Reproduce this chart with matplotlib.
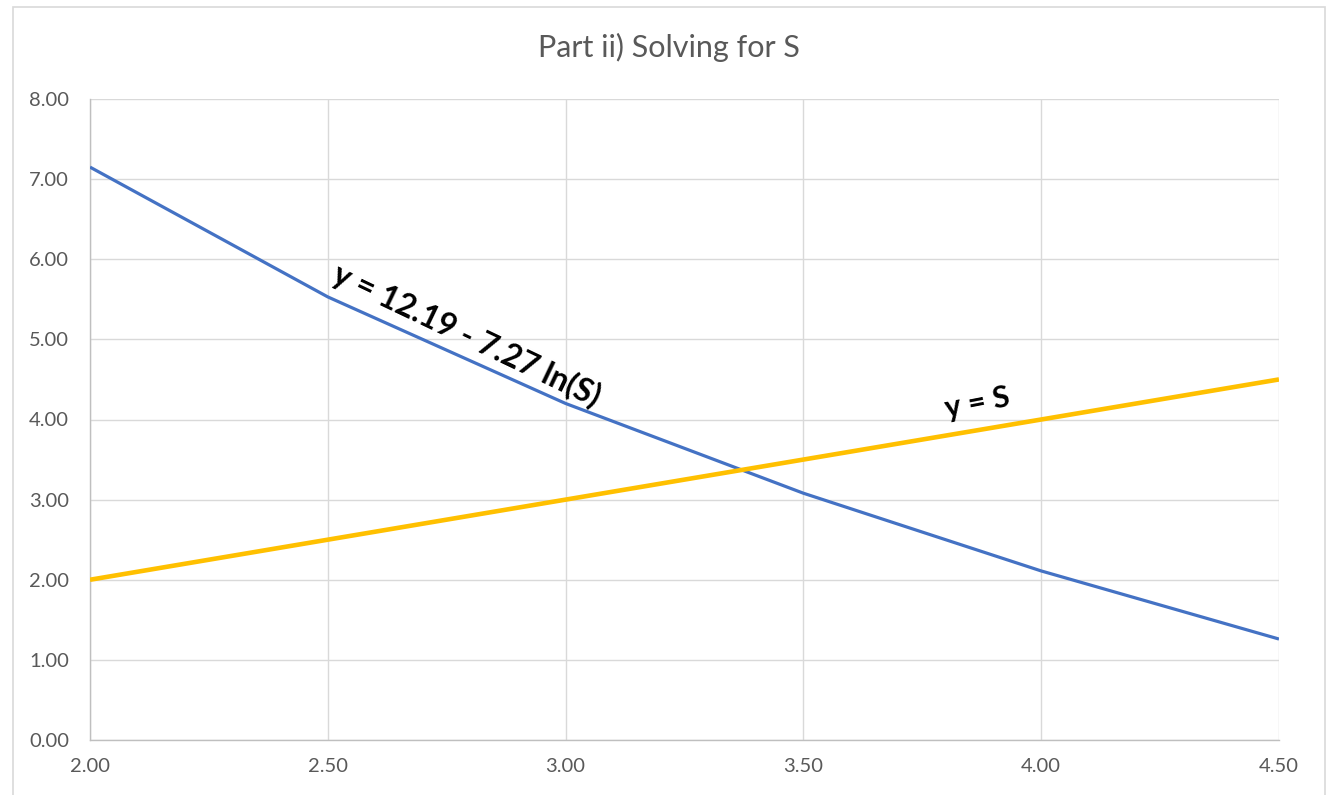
import numpy as np
import matplotlib
matplotlib.use("Agg")
import matplotlib.pyplot as plt
from matplotlib.patches import Rectangle

plt.rcParams['font.family'] = ['Lato', 'DejaVu Sans']

s_values = [2.0, 2.5, 3.0, 3.5, 4.0, 4.5]
log_curve = [7.15, 5.53, 4.20, 3.08, 2.11, 1.26]
identity = [2.0, 2.5, 3.0, 3.5, 4.0, 4.5]

x_ticks = [2.0, 2.5, 3.0, 3.5, 4.0, 4.5]
y_ticks = [0, 1, 2, 3, 4, 5, 6, 7, 8]

title = "Part ii) Solving for S"
label_log = "y = 12.19 - 7.27 ln(S)"
label_id = "y = S"

W, H = 1327, 795
fig = plt.figure(figsize=(W / 100, H / 100), dpi=100)
fig.patch.set_facecolor("white")

# outer chart frame
fig.patches.append(Rectangle((13 / W, -0.01), (1325 - 13) / W, 1 - 7 / H + 0.01,
                             transform=fig.transFigure, fill=False,
                             edgecolor="#D9D9D9", linewidth=1.2))

left, right, top, bottom = 90, 1279, 99, 740
ax = fig.add_axes([left / W, 1 - bottom / H, (right - left) / W, (bottom - top) / H])

ax.plot(s_values, log_curve, color="#4472C4", linewidth=2.3, zorder=3,
        solid_capstyle="butt")
ax.plot(s_values, identity, color="#FFC000", linewidth=3.3, zorder=3,
        solid_capstyle="butt")

ax.set_xlim(2.0, 4.5)
ax.set_ylim(0, 8)
ax.set_xticks(x_ticks)
ax.set_yticks(y_ticks)
ax.set_xticklabels([f"{v:.2f}" for v in x_ticks])
ax.set_yticklabels([f"{v:.2f}" for v in y_ticks])
ax.grid(True, color="#D9D9D9", linewidth=1.0, zorder=0)
ax.set_axisbelow(True)
for side in ["top", "right"]:
    ax.spines[side].set_visible(False)
for side in ["left", "bottom"]:
    ax.spines[side].set_color("#BFBFBF")
    ax.spines[side].set_linewidth(1.0)
ax.tick_params(length=0, labelsize=14.5, labelcolor="#595959")
ax.tick_params(axis="x", pad=13)
ax.tick_params(axis="y", pad=15)

fig.text(669 / W, 1 - 47 / H, title, ha="center", va="center",
         fontsize=22, color="#595959")

# equation labels placed along each curve
ax.text(2.793, 5.05, label_log, rotation=-25.5, rotation_mode="anchor",
        ha="center", va="center", fontsize=23, fontweight="bold", color="black")

ax.text(3.865, 4.21, label_id, rotation=11, rotation_mode="anchor",
        ha="center", va="center", fontsize=22, fontweight="bold", color="black")

fig.savefig("out.png", dpi=100, facecolor="white")
